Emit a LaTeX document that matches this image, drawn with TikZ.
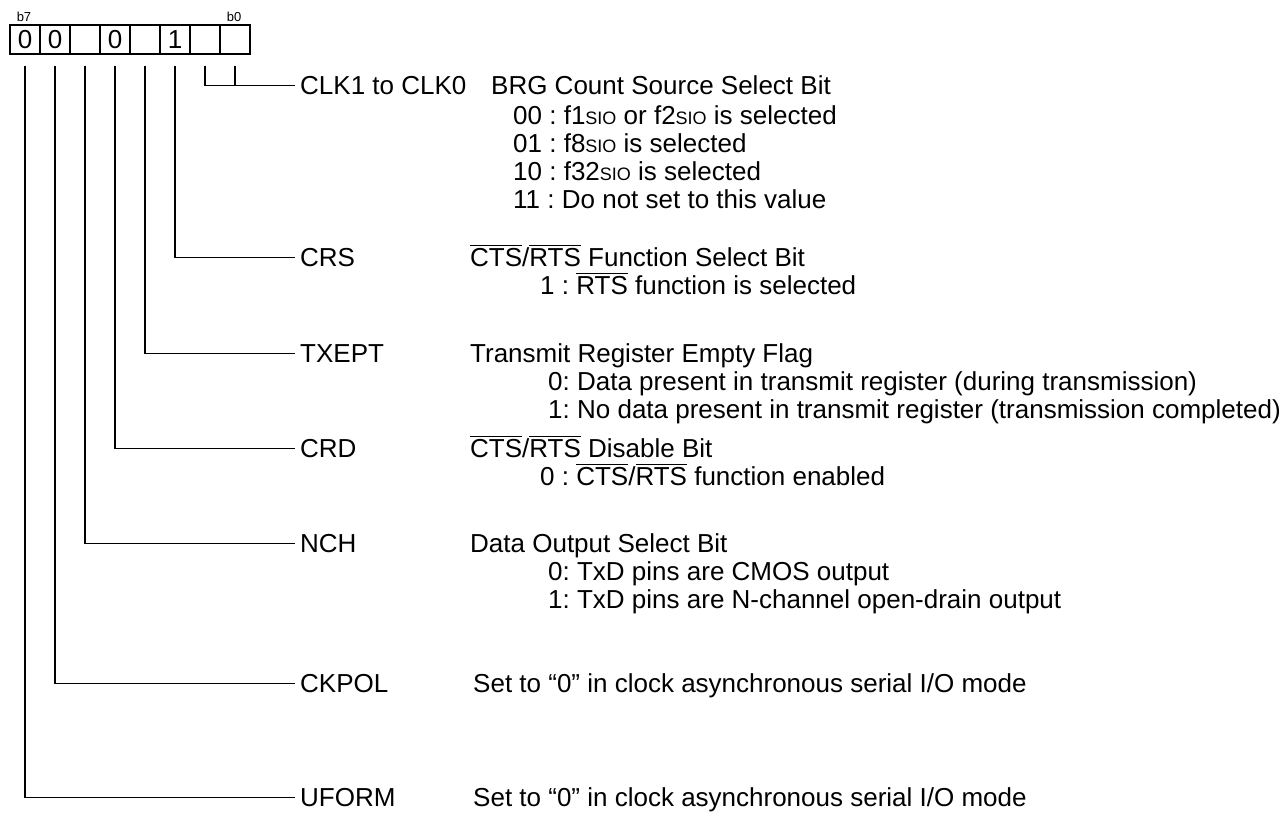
\documentclass[tikz,border=0pt]{standalone}
\usepackage{fontspec}
\setmainfont{Liberation Sans}
\frenchspacing
\newcommand{\sio}{{\fontsize{18}{18}\selectfont SIO}}
\newcommand{\negsig}[1]{\setbox0\hbox{#1}\rlap{\raisebox{0.79em}{\rule{\wd0}{1.2pt}}}\box0\relax}
\tikzset{
  bitbox/.style={draw, line width=1.2pt, minimum width=30pt, minimum height=29pt, inner sep=0pt},
  field/.style={anchor=base west, inner sep=0pt},
  lead/.style={line width=1.2pt}
}
\begin{document}
\begin{tikzpicture}[x=1pt,y=-1pt,font=\fontsize{26}{28}\selectfont]
\useasboundingbox (0,0) rectangle (1286,812);

\node[bitbox] (b7) at (25,39.5) {0};
\node[bitbox] (b6) at (55,39.5) {0};
\node[bitbox] (b5) at (85,39.5) {};
\node[bitbox] (b4) at (115,39.5) {0};
\node[bitbox] (b3) at (145,39.5) {};
\node[bitbox] (b2) at (175,39.5) {1};
\node[bitbox] (b1) at (205,39.5) {};
\node[bitbox] (b0) at (235,39.5) {};
\node[font=\fontsize{13}{13}\selectfont] (t7) at (24,17) {b7};
\node[font=\fontsize{13}{13}\selectfont] (t0) at (234,17) {b0};

\node[field] (clk) at (300,94.3) {CLK1 to CLK0};
\node[field] (clkd) at (491,94.3) {BRG Count Source Select Bit};
\node[field] (clk0) at (513,124.3) {00 : f1\sio{} or f2\sio{} is selected};
\node[field] (clk1) at (513,152.3) {01 : f8\sio{} is selected};
\node[field] (clk2) at (513,180.3) {10 : f32\sio{} is selected};
\node[field] (clk3) at (513,208.3) {11 : Do not set to this value};

\node[field] (crs) at (300,266.3) {CRS};
\node[field] (crsd) at (470,266.3) {\negsig{CTS}/\negsig{RTS} Function Select Bit};
\node[field] (crs1) at (540,294.3) {1 : \negsig{RTS} function is selected};

\node[field] (txept) at (300,362.3) {TXEPT};
\node[field] (txeptd) at (470,362.3) {Transmit Register Empty Flag};
\node[field] (txept0) at (548,390.3) {0: Data present in transmit register (during transmission)};
\node[field] (txept1) at (548,418.3) {1: No data present in transmit register (transmission completed)};

\node[field] (crd) at (300,457.3) {CRD};
\node[field] (crdd) at (470,457.3) {\negsig{CTS}/\negsig{RTS} Disable Bit};
\node[field] (crd0) at (540,485.3) {0 : \negsig{CTS}/\negsig{RTS} function enabled};

\node[field] (nch) at (300,552.3) {NCH};
\node[field] (nchd) at (470,552.3) {Data Output Select Bit};
\node[field] (nch0) at (548,580.3) {0: TxD pins are CMOS output};
\node[field] (nch1) at (548,608.3) {1: TxD pins are N-channel open-drain output};

\node[field] (ckpol) at (300,692.3) {CKPOL};
\node[field] (ckpold) at (473,692.3) {Set to “0” in clock asynchronous serial I/O mode};

\node[field] (uform) at (300,806.5) {UFORM};
\node[field] (uformd) at (473,806.5) {Set to “0” in clock asynchronous serial I/O mode};

\draw[lead] ([yshift=-11pt]b1.south) |- ([xshift=-5pt]clk.west);
\draw[lead] ([yshift=-11pt]b0.south) |- ([xshift=-5pt]clk.west);
\draw[lead] ([yshift=-11pt]b2.south) |- ([xshift=-5pt]crs.west);
\draw[lead] ([yshift=-11pt]b3.south) |- ([xshift=-5pt]txept.west);
\draw[lead] ([yshift=-11pt]b4.south) |- ([xshift=-5pt]crd.west);
\draw[lead] ([yshift=-11pt]b5.south) |- ([xshift=-5pt]nch.west);
\draw[lead] ([yshift=-11pt]b6.south) |- ([xshift=-5pt]ckpol.west);
\draw[lead] ([yshift=-11pt]b7.south) |- ([xshift=-5pt]uform.west);
\end{tikzpicture}
\end{document}
